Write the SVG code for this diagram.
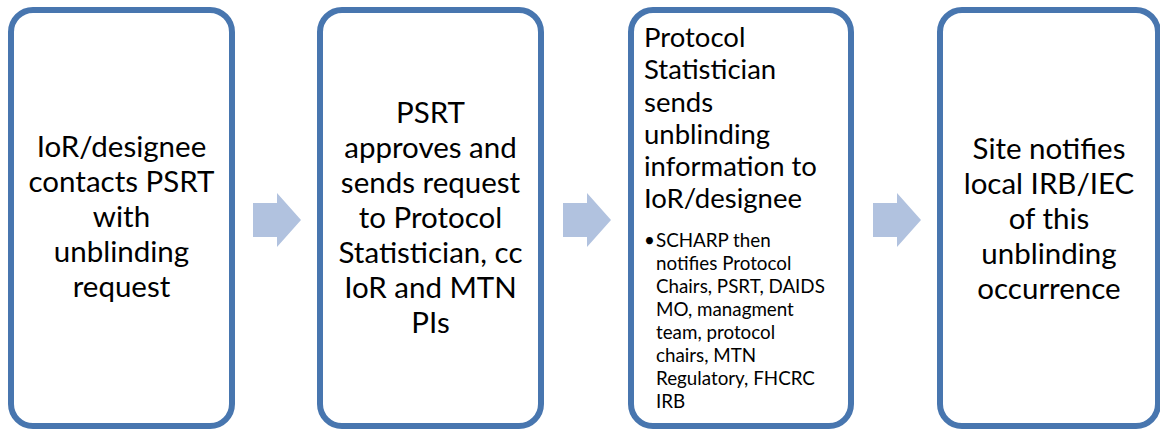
<svg xmlns="http://www.w3.org/2000/svg" width="1160" height="430" viewBox="0 0 1160 430">
<style>
.box{fill:#ffffff;stroke:#4876AF;stroke-width:6}
.arrow{fill:#B1C2DF}
.t{font-family:Lato,"Liberation Sans",sans-serif;font-size:29.5px;fill:#000;text-anchor:middle}
.tl{font-family:Lato,"Liberation Sans",sans-serif;font-size:27.5px;fill:#000}
.ts{font-family:Lato,"Liberation Sans",sans-serif;font-size:18.8px;fill:#000}
</style>
<rect width="1160" height="430" fill="#ffffff"/>
<g id="connectors">
<path class="arrow" d="M253,203 H277 V193 L301,220 L277,247 V237 H253 Z"/>
<path class="arrow" d="M563,203 H587 V193 L611,220 L587,247 V237 H563 Z"/>
<path class="arrow" d="M873,203 H897 V193 L921,220 L897,247 V237 H873 Z"/>
</g>
<g id="node1">
<rect class="box" x="11" y="10" width="221" height="416" rx="22"/>
<text class="t"><tspan x="121.5" y="157">IoR/designee</tspan><tspan x="121.5" y="192">contacts PSRT</tspan><tspan x="121.5" y="227">with</tspan><tspan x="121.5" y="262">unblinding</tspan><tspan x="121.5" y="297">request</tspan></text>
</g>
<g id="node2">
<rect class="box" x="320" y="10" width="221" height="416" rx="22"/>
<text class="t"><tspan x="430.5" y="123">PSRT</tspan><tspan x="430.5" y="158">approves and</tspan><tspan x="430.5" y="193">sends request</tspan><tspan x="430.5" y="228">to Protocol</tspan><tspan x="430.5" y="263">Statistician, cc</tspan><tspan x="430.5" y="298">IoR and MTN</tspan><tspan x="430.5" y="333">PIs</tspan></text>
</g>
<g id="node3">
<rect class="box" x="631" y="10" width="220" height="416" rx="22"/>
<text class="tl"><tspan x="644" y="47">Protocol</tspan><tspan x="644" y="79">Statistician</tspan><tspan x="644" y="111.5">sends</tspan><tspan x="644" y="144">unblinding</tspan><tspan x="644" y="176">information to</tspan><tspan x="644" y="208">IoR/designee</tspan></text>
<text class="ts"><tspan x="644" y="247">•</tspan><tspan x="656" y="247">SCHARP then</tspan><tspan x="656" y="270">notifies Protocol</tspan><tspan x="656" y="293">Chairs, PSRT, DAIDS</tspan><tspan x="656" y="316">MO, managment</tspan><tspan x="656" y="339">team, protocol</tspan><tspan x="656" y="362">chairs, MTN</tspan><tspan x="656" y="385">Regulatory, FHCRC</tspan><tspan x="656" y="408">IRB</tspan></text>
</g>
<g id="node4">
<rect class="box" x="940" y="10" width="218" height="416" rx="22"/>
<text class="t"><tspan x="1049" y="159">Site notifies</tspan><tspan x="1049" y="194">local IRB/IEC</tspan><tspan x="1049" y="229">of this</tspan><tspan x="1049" y="264">unblinding</tspan><tspan x="1049" y="299">occurrence</tspan></text>
</g>
</svg>
